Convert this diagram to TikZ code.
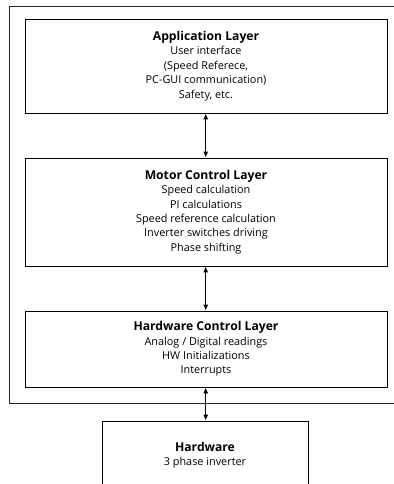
\documentclass[tikz,border=0pt]{standalone}
\usepackage{fontspec}
\setmainfont{Open Sans}
\usetikzlibrary{arrows.meta,positioning}
\begin{document}
\begin{tikzpicture}[x=1bp,y=-1bp,
  every node/.style={font=\fontsize{10.9}{14.5}\selectfont},
  layer/.style={draw,line width=0.9bp,align=center,inner sep=0pt},
  link/.style={{Latex[length=6bp,width=5bp]}-{Latex[length=6bp,width=5bp]},line width=0.9bp}]
\newcommand\layertitle[1]{{\fontsize{12.2}{14.5}\selectfont\bfseries #1}}
\useasboundingbox (0,0) rectangle (393,484);
% frame round the software part, open on the right
\draw[line width=0.8bp,black!85] (400,6.5) -- (9,6.5) -- (9,403) -- (400,403);
% software layers
\node[layer,minimum width=362bp,minimum height=94bp] (app) at (206,66)
  {\layertitle{Application Layer}\\User interface\\(Speed Referece,\\PC-GUI communication)\\Safety, etc.};
\node[layer,minimum width=362bp,minimum height=108bp] (mcl) at (206,212)
  {\layertitle{Motor Control Layer}\\Speed calculation\\PI calculations\\Speed reference calculation\\Inverter switches driving\\Phase shifting};
\node[layer,minimum width=362bp,minimum height=76bp] (hcl) at (206,349)
  {\layertitle{Hardware Control Layer}\\Analog / Digital readings\\HW Initializations\\Interrupts};
% the inverter board below
\node[layer,minimum width=206bp,minimum height=68bp] (hw) at (205,455)
  {\layertitle{Hardware}\\3 phase inverter};
\draw[link] ([xshift=-0.3bp]app.south) -- ([xshift=-0.3bp]mcl.north);
\draw[link] ([xshift=-0.3bp]mcl.south) -- ([xshift=-0.3bp]hcl.north);
\draw[link] ([xshift=-0.3bp]hcl.south) -- ([xshift=0.7bp]hw.north);
\end{tikzpicture}
\end{document}
